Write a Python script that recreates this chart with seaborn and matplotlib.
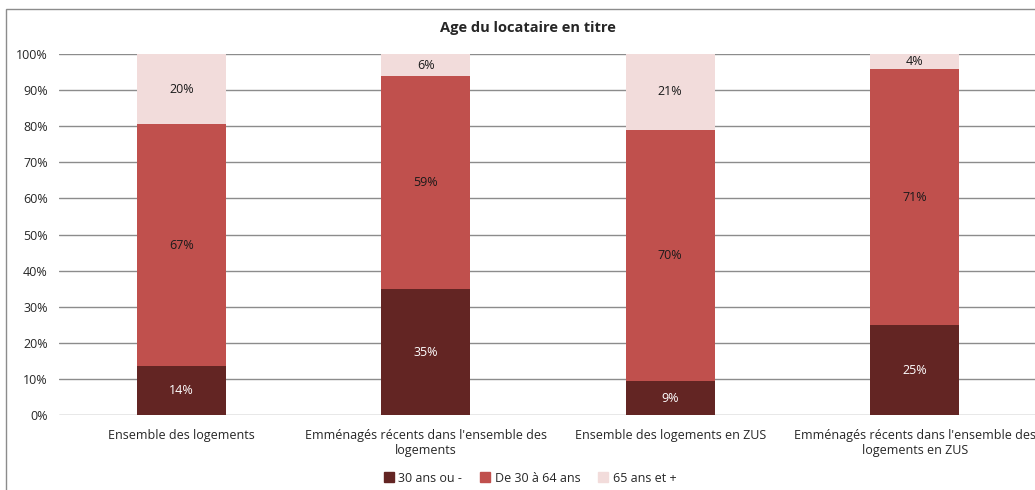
import matplotlib
matplotlib.use("Agg")
import matplotlib.pyplot as plt
import matplotlib.patches as mpatches
from matplotlib.lines import Line2D
import numpy as np
import seaborn as sns

# =========================
# DATA
# =========================

categories = [
    "Ensemble des logements",
    "Emménagés récents dans l'ensemble des\nlogements",
    "Ensemble des logements en ZUS",
    "Emménagés récents dans l'ensemble des\nlogements en ZUS",
]
series_names = ["30 ans ou -", "De 30 à 64 ans", "65 ans et +"]
moins_30 = [13.6, 34.9, 9.4, 24.9]
de_30_64 = [66.9, 59.0, 69.6, 70.9]
plus_65 = [19.5, 6.1, 21.0, 4.2]
labels_moins_30 = ["14%", "35%", "9%", "25%"]
labels_30_64 = ["67%", "59%", "70%", "71%"]
labels_plus_65 = ["20%", "6%", "21%", "4%"]

colors = ["#632523", "#C0504D", "#F2DCDB"]
grid_color = "#8C8C8C"

# =========================
# FIGURE
# =========================

sns.set_style("white")
plt.rcParams["font.family"] = ["Open Sans", "DejaVu Sans"]

fig = plt.figure(figsize=(10.35, 4.9), dpi=100)
ax = fig.add_axes([59 / 1035, 1 - 415 / 490, 978 / 1035, 361 / 490])

a = np.array(moins_30)
b = np.array(de_30_64)
c = np.array(plus_65)

# stacked bars drawn back to front with cumulative heights
width = 0.365
for heights, col in [(a + b + c, colors[2]), (a + b, colors[1]), (a, colors[0])]:
    sns.barplot(x=categories, y=heights, color=col, width=width,
                saturation=1, linewidth=0, ax=ax, zorder=3)

# data labels
for i in range(len(categories)):
    ax.text(i, a[i] / 2, labels_moins_30[i], ha="center", va="center",
            fontsize=9, color="white", zorder=4)
    ax.text(i, a[i] + b[i] / 2, labels_30_64[i], ha="center", va="center",
            fontsize=9, color="#1a1a1a", zorder=4)
    ax.text(i, a[i] + b[i] + c[i] / 2, labels_plus_65[i], ha="center",
            va="center", fontsize=9, color="#1a1a1a", zorder=4)

ax.set_ylim(0, 100)
ax.set_xlim(-0.5, 3.5)
ax.set_yticks(range(0, 101, 10))
ax.set_yticklabels([f"{v}%" for v in range(0, 101, 10)], fontsize=9)
ax.tick_params(axis="y", length=0, pad=8)
ax.tick_params(axis="x", length=0, pad=10, labelsize=9)
ax.grid(axis="y", color=grid_color, linewidth=1, zorder=0)
ax.set_axisbelow(True)
for s in ax.spines.values():
    s.set_visible(False)
ax.set_xlabel("")
ax.set_ylabel("")

fig.text(0.51, 0.943, "Age du locataire en titre", ha="center", va="center",
         fontsize=10.5, fontweight="bold")

# legend
handles = [Line2D([], [], marker="s", linestyle="none", markersize=7,
                  markerfacecolor=col, markeredgecolor=col) for col in colors]
fig.legend(handles, series_names, loc="center", bbox_to_anchor=(0.512, 0.024),
           ncol=3, frameon=False, fontsize=9, handletextpad=0.3,
           columnspacing=1.4, handlelength=0.9)

# chart frame
fig.patches.append(mpatches.Rectangle((6 / 1035, -0.1), 1.2, 0.1 + (1 - 9 / 490),
                                      transform=fig.transFigure, fill=False,
                                      edgecolor="#8C8C8C", linewidth=1))

fig.savefig("out.png", dpi=100)
